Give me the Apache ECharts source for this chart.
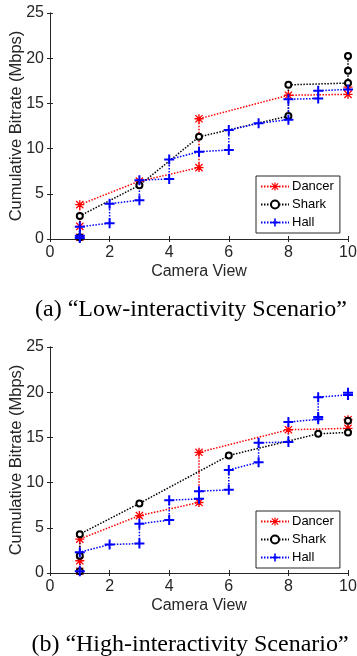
<!DOCTYPE html>
<html>
<head>
<meta charset="utf-8">
<script src="https://cdn.jsdelivr.net/npm/echarts@6/dist/echarts.min.js"></script>
<style>
  html, body { margin: 0; padding: 0; background: #fff; }
</style>
</head>
<body>
<div id="chart" style="width: 357px; height: 656px;"></div>
<script>
// cumulative bitrate per camera view, [view, Mbps]
const lowDancer = [[1, 0.2], [1, 1.4], [1, 3.8], [3, 6.4], [5, 7.9], [5, 13.3], [8, 15.9], [10, 16.0], [10, 16.8]];
const lowShark = [[1, 0.2], [1, 2.55], [3, 5.95], [5, 11.3], [8, 13.6], [8, 17.05], [10, 17.25], [10, 18.6], [10, 20.25]];
const lowHall = [[1, 0.1], [1, 0.35], [1, 1.35], [2, 1.75], [2, 3.9], [3, 4.3], [3, 6.5], [4, 6.65], [4, 8.8], [5, 9.65],
  [6, 9.85], [6, 12.05], [7, 12.8], [8, 13.2], [8, 15.45], [9, 15.55], [9, 16.4], [10, 16.55]];

const highDancer = [[1, 0.2], [1, 1.35], [1, 3.75], [3, 6.35], [5, 7.8], [5, 13.35], [8, 15.85], [10, 16.0], [10, 16.95]];
const highShark = [[1, 0.2], [1, 1.9], [1, 4.3], [3, 7.7], [6, 13.0], [9, 15.4], [10, 15.55], [10, 16.85]];
const highHall = [[1, 0.2], [1, 2.3], [2, 3.15], [3, 3.25], [3, 5.45], [4, 5.85], [4, 8.05], [5, 8.2], [5, 9.05], [6, 9.2],
  [6, 11.4], [7, 12.25], [7, 14.4], [8, 14.5], [8, 16.7], [9, 17.0], [9, 17.25], [9, 19.45], [10, 19.7], [10, 19.95]];

const seriesNames = ['Dancer', 'Shark', 'Hall'];
const captions = ['(a) \u201cLow-interactivity Scenario\u201d', '(b) \u201cHigh-interactivity Scenario\u201d'];

const axisColor = '#262626';
const font = 'Liberation Sans, Arial, sans-serif';

// matlab-ish markers
const plusPath = 'path://M4,0h2v4h4v2h-4v4h-2v-4h-4v-2h4z';
const starPath = 'path://M4.25,0h1.5v4.25h4.25v1.5h-4.25v4.25h-1.5v-4.25h-4.25v-1.5h4.25z' +
  'M1.5,0.5L5,4L8.5,0.5L9.5,1.5L6,5L9.5,8.5L8.5,9.5L5,6L1.5,9.5L0.5,8.5L4,5L0.5,1.5z';

const grids = [
  { left: 50, right: 9, top: 13, height: 226, outerBoundsMode: 'none', containLabel: false },
  { left: 50, right: 9, top: 347, height: 226, outerBoundsMode: 'none', containLabel: false }
];

function xAxes(g) {
  return [
    {
      type: 'value', gridIndex: g, min: 0, max: 10, interval: 2, position: 'bottom',
      name: 'Camera View', nameLocation: 'middle', nameGap: 25, nameMoveOverlap: false,
      nameTextStyle: { color: axisColor, fontSize: 16, fontFamily: font },
      axisLine: { lineStyle: { color: axisColor } },
      axisTick: { inside: true, length: 3, lineStyle: { color: axisColor } },
      axisLabel: { color: axisColor, fontSize: 16, fontFamily: font, margin: 6 },
      splitLine: { show: false }
    },
    {
      type: 'value', gridIndex: g, min: 0, max: 10, interval: 2, position: 'top',
      axisLine: { lineStyle: { color: axisColor } },
      axisTick: { inside: true, length: 3, lineStyle: { color: axisColor } },
      axisLabel: { show: false }, splitLine: { show: false }
    }
  ];
}

function yAxes(g) {
  return [
    {
      type: 'value', gridIndex: g, min: 0, max: 25, interval: 5, position: 'left',
      name: 'Cumulative Bitrate (Mbps)', nameLocation: 'middle', nameGap: 25, nameMoveOverlap: false,
      nameTextStyle: { color: axisColor, fontSize: 16.5, fontFamily: font },
      axisLine: { show: true, lineStyle: { color: axisColor } },
      axisTick: { show: true, inside: true, length: 3, lineStyle: { color: axisColor } },
      axisLabel: { color: axisColor, fontSize: 16, fontFamily: font, margin: 6 },
      splitLine: { show: false }
    },
    {
      type: 'value', gridIndex: g, min: 0, max: 25, interval: 5, position: 'right',
      axisLine: { show: true, lineStyle: { color: axisColor } },
      axisTick: { show: true, inside: true, length: 3, lineStyle: { color: axisColor } },
      axisLabel: { show: false }, splitLine: { show: false }
    }
  ];
}

function makeSeries(g, name, data, color, symbol, size) {
  return {
    name: name, type: 'line', data: data,
    xAxisIndex: g * 2, yAxisIndex: g * 2,
    symbol: symbol, symbolSize: size,
    clip: false,
    lineStyle: { color: color, width: 1.5, type: [1.5, 1.5] },
    itemStyle: symbol === 'emptyCircle'
      ? { color: color, borderColor: color, borderWidth: 1.8 }
      : { color: color },
    emphasis: { disabled: true },
    animation: false, z: 3
  };
}

const series = [];
[[lowDancer, lowShark, lowHall], [highDancer, highShark, highHall]].forEach((set, g) => {
  series.push(makeSeries(g, seriesNames[0], set[0], '#ff0000', starPath, 9));
  series.push(makeSeries(g, seriesNames[1], set[1], '#000000', 'emptyCircle', 6));
  series.push(makeSeries(g, seriesNames[2], set[2], '#0000ff', plusPath, 10));
});

const legends = [176, 511].map(top => ({
  data: seriesNames,
  orient: 'vertical', left: 256, top: top,
  itemWidth: 28, itemHeight: 10, itemGap: 5,
  padding: [4, 6, 4, 4],
  borderColor: axisColor, borderWidth: 1, backgroundColor: '#fff',
  textStyle: { color: '#000', fontSize: 13, fontFamily: font, padding: [0, 0, 0, -2] }
}));

const captionFont = '24px Liberation Serif, Times New Roman, serif';

const chart = echarts.init(document.getElementById('chart'));
chart.setOption({
  animation: false,
  grid: grids,
  xAxis: xAxes(0).concat(xAxes(1)),
  yAxis: yAxes(0).concat(yAxes(1)),
  legend: legends,
  series: series,
  graphic: [
    { type: 'text', x: 191, y: 310, style: { text: captions[0], font: captionFont, fill: '#000', align: 'center', verticalAlign: 'middle' } },
    { type: 'text', x: 190, y: 645, style: { text: captions[1], font: captionFont, fill: '#000', align: 'center', verticalAlign: 'middle' } }
  ]
});
</script>
</body>
</html>
